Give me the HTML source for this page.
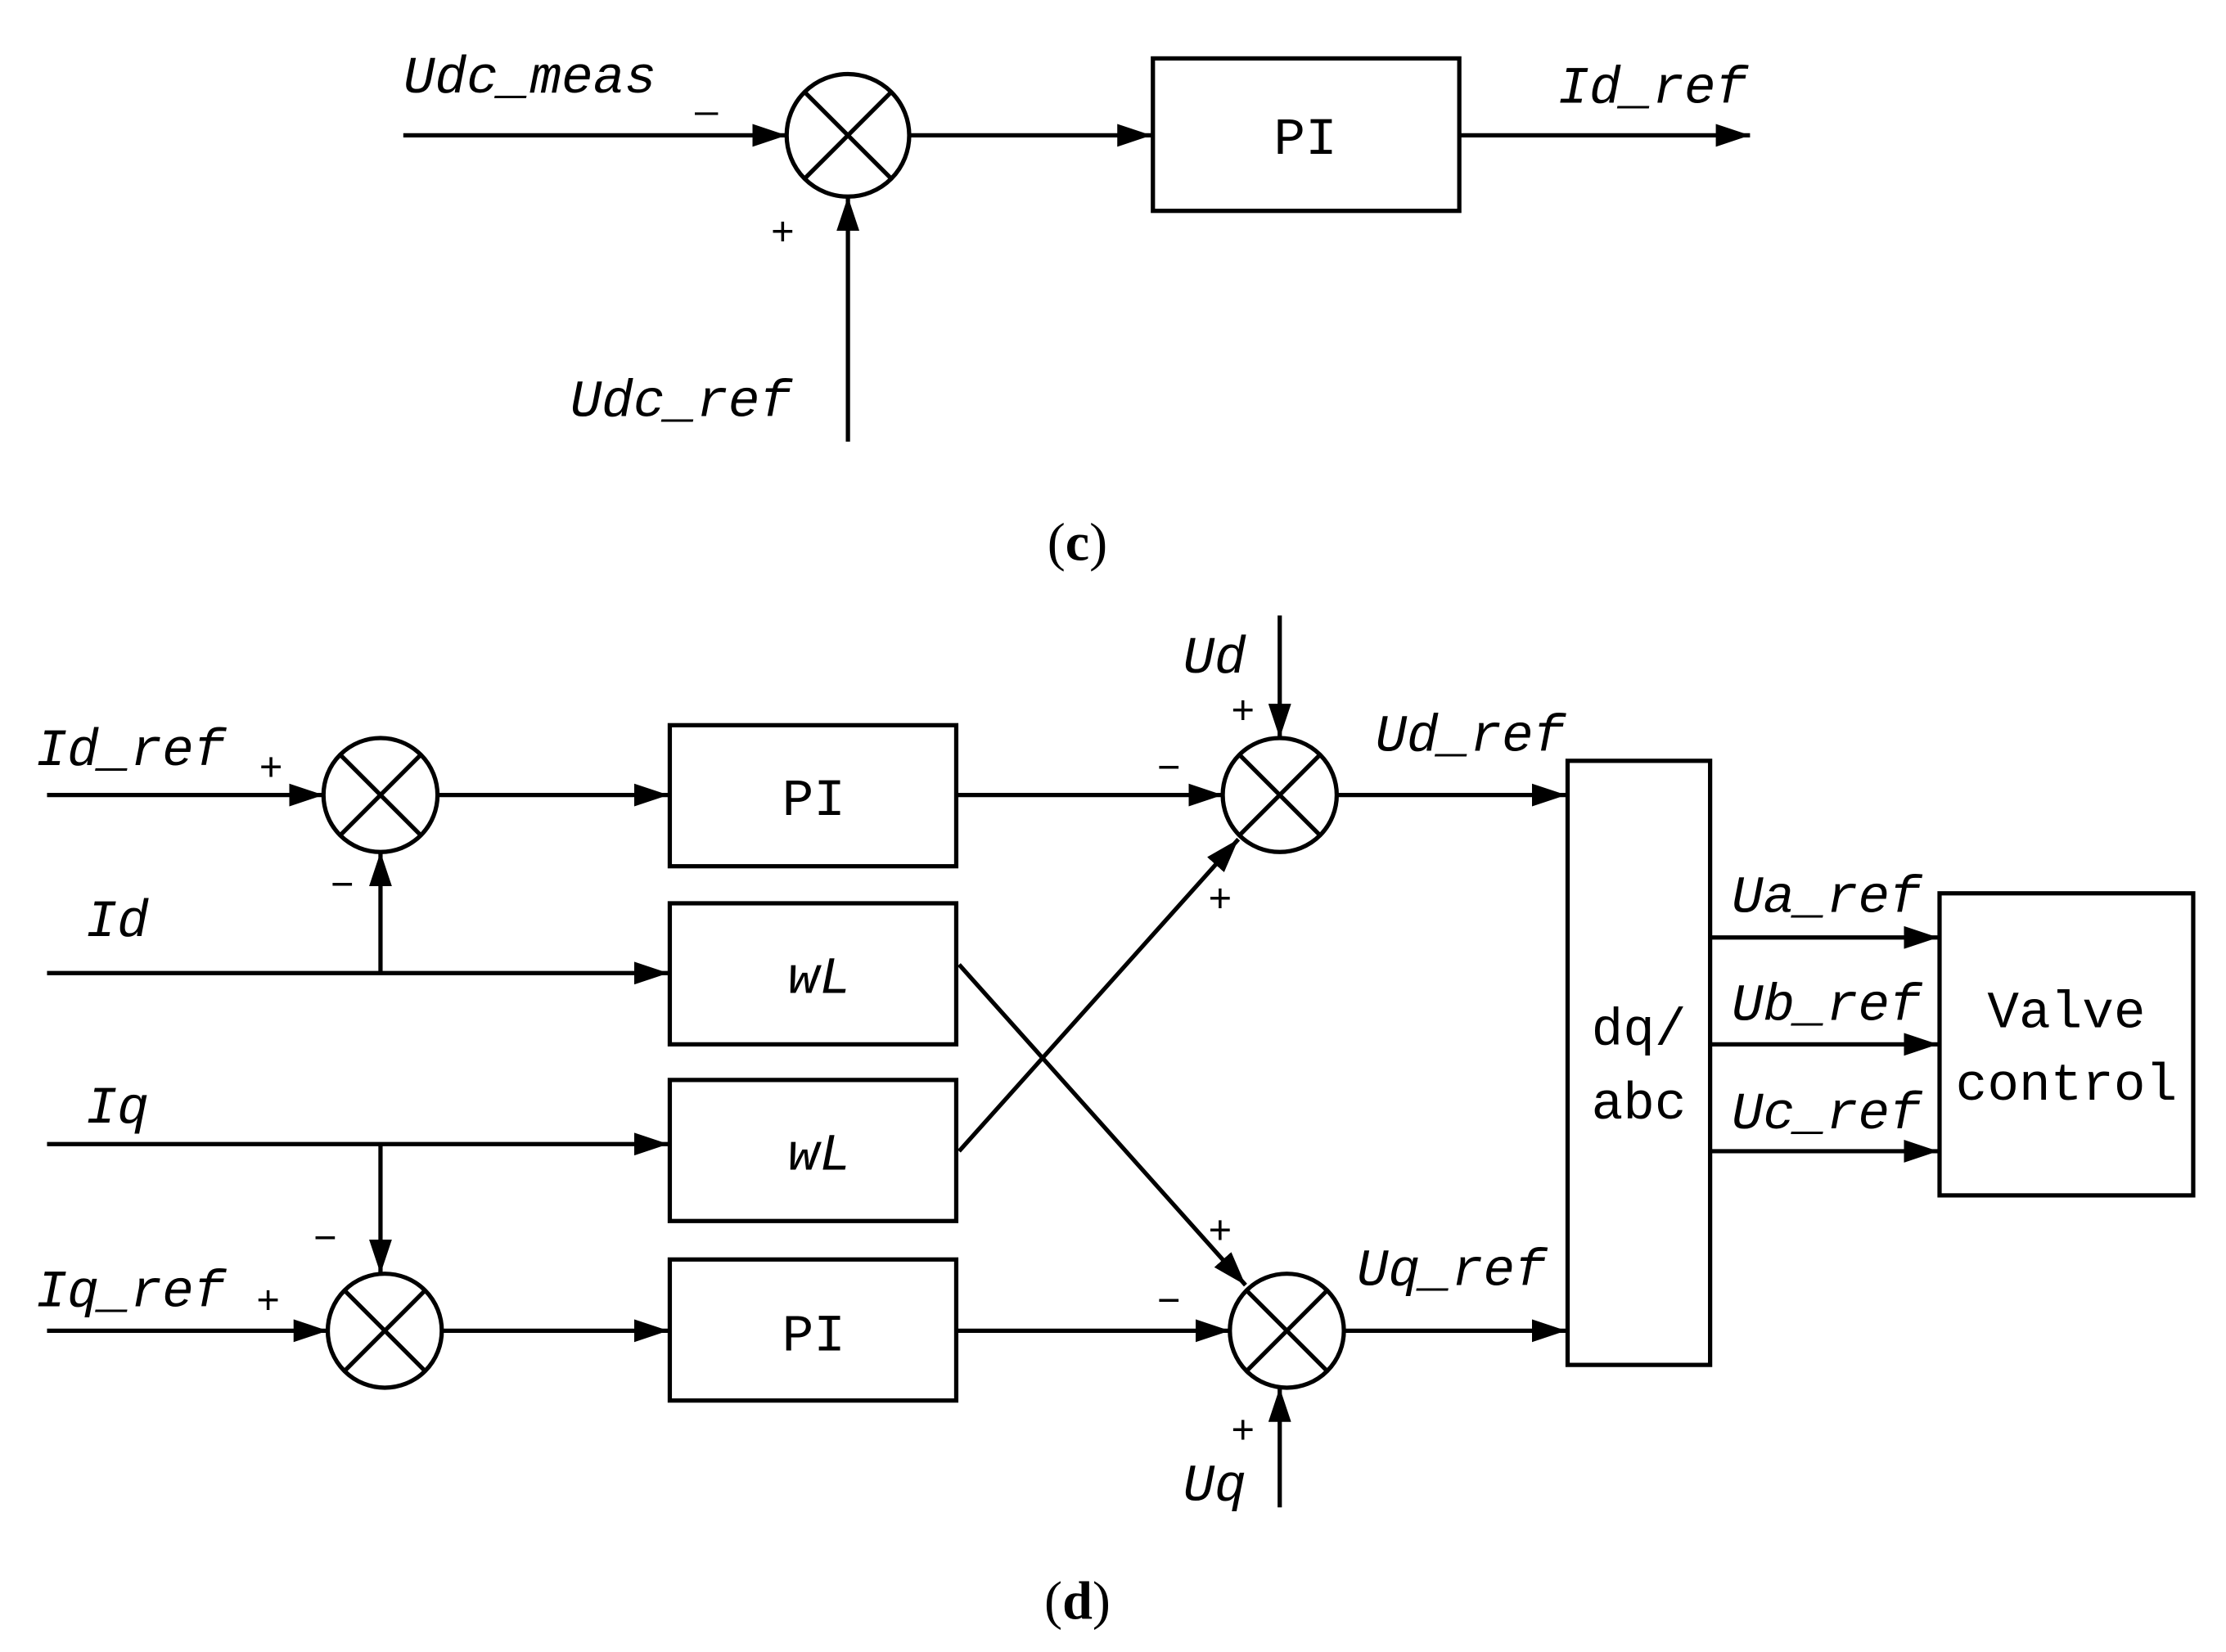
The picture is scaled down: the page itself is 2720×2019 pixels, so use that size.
<!DOCTYPE html>
<html><head><meta charset="utf-8"><style>
html,body{margin:0;padding:0;background:#fff;}
svg{display:block;}
text{font-family:"Liberation Serif","Noto Serif CJK SC",serif;fill:#000;}
.it{font-family:"Liberation Mono",monospace;font-style:italic;font-size:37px;}
.bx{font-family:"Liberation Mono","Noto Sans CJK SC",monospace;font-size:37px;}
.sg{font-family:"Liberation Sans",sans-serif;font-size:28px;}
</style></head><body>
<svg width="2720" height="2019" viewBox="0 0 1562 1159.5" preserveAspectRatio="none" xmlns="http://www.w3.org/2000/svg">
<defs>
<marker id="ar" viewBox="0 0 24 16" refX="24" refY="8" markerWidth="24" markerHeight="16" orient="auto" markerUnits="userSpaceOnUse">
<path d="M0,0 L24,8 L0,16 z" fill="#000"/>
</marker>
</defs>
<g stroke="#000" stroke-width="3" fill="none">
<line x1="283" y1="95" x2="552" y2="95" marker-end="url(#ar)"/>
<circle cx="595" cy="95" r="43"/>
<line x1="565" y1="65" x2="625" y2="125"/><line x1="625" y1="65" x2="565" y2="125"/>
<line x1="638" y1="95" x2="808" y2="95" marker-end="url(#ar)"/>
<rect x="809" y="41" width="215" height="107"/>
<line x1="1024" y1="95" x2="1228" y2="95" marker-end="url(#ar)"/>
<line x1="595" y1="310" x2="595" y2="138" marker-end="url(#ar)"/>
<line x1="33" y1="558" x2="227" y2="558" marker-end="url(#ar)"/>
<circle cx="267" cy="558" r="40"/>
<line x1="239" y1="530" x2="295" y2="586"/><line x1="295" y1="530" x2="239" y2="586"/>
<line x1="307" y1="558" x2="469" y2="558" marker-end="url(#ar)"/>
<rect x="470" y="509" width="201" height="99"/>
<line x1="33" y1="683" x2="469" y2="683" marker-end="url(#ar)"/>
<rect x="470" y="634" width="201" height="99"/>
<line x1="267" y1="683" x2="267" y2="598" marker-end="url(#ar)"/>
<line x1="33" y1="803" x2="469" y2="803" marker-end="url(#ar)"/>
<rect x="470" y="758" width="201" height="99"/>
<line x1="267" y1="803" x2="267" y2="894" marker-end="url(#ar)"/>
<line x1="33" y1="934" x2="230" y2="934" marker-end="url(#ar)"/>
<circle cx="270" cy="934" r="40"/>
<line x1="242" y1="906" x2="298" y2="962"/><line x1="298" y1="906" x2="242" y2="962"/>
<line x1="310" y1="934" x2="469" y2="934" marker-end="url(#ar)"/>
<rect x="470" y="884" width="201" height="99"/>
<line x1="671" y1="558" x2="858" y2="558" marker-end="url(#ar)"/>
<circle cx="898" cy="558" r="40"/>
<line x1="870" y1="530" x2="926" y2="586"/><line x1="926" y1="530" x2="870" y2="586"/>
<line x1="898" y1="432" x2="898" y2="518" marker-end="url(#ar)"/>
<line x1="673" y1="808" x2="869" y2="589" marker-end="url(#ar)"/>
<line x1="938" y1="558" x2="1099" y2="558" marker-end="url(#ar)"/>
<line x1="671" y1="934" x2="863" y2="934" marker-end="url(#ar)"/>
<circle cx="903" cy="934" r="40"/>
<line x1="875" y1="906" x2="931" y2="962"/><line x1="931" y1="906" x2="875" y2="962"/>
<line x1="673" y1="677" x2="874" y2="902" marker-end="url(#ar)"/>
<line x1="898" y1="1058" x2="898" y2="974" marker-end="url(#ar)"/>
<line x1="943" y1="934" x2="1099" y2="934" marker-end="url(#ar)"/>
<rect x="1100" y="534" width="100" height="424"/>
<line x1="1200" y1="658" x2="1360" y2="658" marker-end="url(#ar)"/>
<line x1="1200" y1="733" x2="1360" y2="733" marker-end="url(#ar)"/>
<line x1="1200" y1="808" x2="1360" y2="808" marker-end="url(#ar)"/>
<rect x="1361" y="627" width="178" height="212"/>
</g>
<text class="it" x="283" y="65">Udc_meas</text>
<text class="sg" x="488" y="75">_</text>
<text class="sg" x="541" y="172">+</text>
<text class="it" x="400" y="292">Udc_ref</text>
<text class="bx" x="916" y="108" text-anchor="middle">PI</text>
<text class="it" x="1093" y="72">Id_ref</text>
<text x="756" y="393" text-anchor="middle" font-size="38">(<tspan font-weight="bold">c</tspan>)</text>
<text class="it" x="25" y="537">Id_ref</text>
<text class="sg" x="182" y="548">+</text>
<text class="sg" x="232" y="630">−</text>
<text class="it" x="60" y="657">Id</text>
<text class="it" x="60" y="788">Iq</text>
<text class="sg" x="220" y="878">−</text>
<text class="it" x="25" y="917">Iq_ref</text>
<text class="sg" x="180" y="922">+</text>
<text class="bx" x="571" y="572" text-anchor="middle">PI</text>
<text class="it" x="575" y="697" text-anchor="middle">wL</text>
<text class="it" x="575" y="821" text-anchor="middle">wL</text>
<text class="bx" x="571" y="948" text-anchor="middle">PI</text>
<text class="it" x="830" y="472">Ud</text>
<text class="sg" x="864" y="508">+</text>
<text class="sg" x="812" y="548">−</text>
<text class="sg" x="848" y="640">+</text>
<text class="it" x="965" y="527">Ud_ref</text>
<text class="sg" x="848" y="873">+</text>
<text class="sg" x="812" y="922">−</text>
<text class="it" x="952" y="902">Uq_ref</text>
<text class="sg" x="864" y="1013">+</text>
<text class="it" x="830" y="1053">Uq</text>
<text class="bx" x="1150" y="733" text-anchor="middle">dq/</text>
<text class="bx" x="1150" y="785" text-anchor="middle">abc</text>
<text class="it" x="1215" y="640">Ua_ref</text>
<text class="it" x="1215" y="716">Ub_ref</text>
<text class="it" x="1215" y="792">Uc_ref</text>
<text class="bx" x="1450" y="721" text-anchor="middle">Valve</text>
<text class="bx" x="1450" y="772" text-anchor="middle">control</text>
<text x="756" y="1136" text-anchor="middle" font-size="38">(<tspan font-weight="bold">d</tspan>)</text>
</svg>
</body></html>
